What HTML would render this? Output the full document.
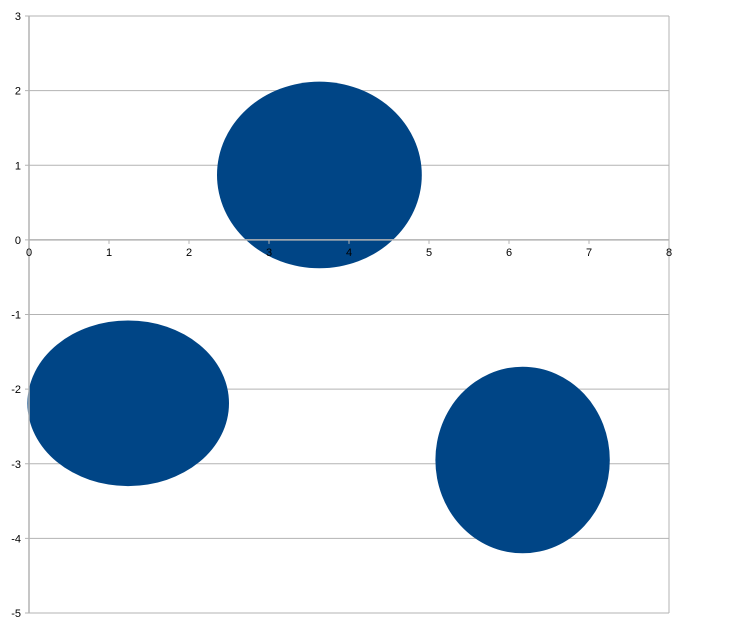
<!DOCTYPE html>
<html><head><meta charset="utf-8"><style>
html,body{margin:0;padding:0;background:#fff;}
svg{display:block;font-family:"Liberation Sans",sans-serif;}
</style></head><body>
<svg id="chart" width="739" height="633" viewBox="0 0 739 633" xmlns="http://www.w3.org/2000/svg">
<g id="grid"></g>
<g id="clusters"></g>
<g id="axes"></g>
</svg>
<script>
const xTicks = [0,1,2,3,4,5,6,7,8];
const yTicks = [3,2,1,0,-1,-2,-3,-4,-5];
const clusterCx = [3.63, 1.24, 6.17];
const clusterCy = [0.87, -2.19, -2.95];
const clusterRx = [1.28, 1.26, 1.09];
const clusterRy = [1.25, 1.11, 1.25];

const X0=29, X1=669, Y0=16, Y1=613;
const sx = v => X0 + (v - 0) / 8 * (X1 - X0);
const sy = v => Y0 + (3 - v) / 8 * (Y1 - Y0);
const NS='http://www.w3.org/2000/svg';
function mk(tag, attrs, parent){const e=document.createElementNS(NS,tag);for(const k in attrs)e.setAttribute(k,attrs[k]);parent.appendChild(e);return e;}
const grid=document.getElementById('grid'), cl=document.getElementById('clusters'), ax=document.getElementById('axes');

yTicks.forEach(t=>{
  const l=mk('line',{x1:X0-4,x2:X1,y1:sy(t),y2:sy(t),stroke:'#b3b3b3','stroke-width':1},grid);
  
  
  const tx=mk('text',{x:X0-8,y:sy(t)+4,'text-anchor':'end','font-size':11,fill:'#000'},ax);
  tx.textContent=t;
  
  
});
const rb=mk('line',{x1:X1,x2:X1,y1:Y0,y2:Y1,stroke:'#b3b3b3','stroke-width':1},grid);



clusterCx.forEach((c,i)=>{
  const e=mk('ellipse',{cx:sx(c),cy:sy(clusterCy[i]),rx:sx(clusterRx[i])-sx(0),ry:sy(0)-sy(clusterRy[i]),fill:'#004586'},cl);
  
  
});

const ya=mk('line',{x1:X0,x2:X0,y1:Y0,y2:Y1,stroke:'#b3b3b3','stroke-width':1.5},ax);


const xa=mk('line',{x1:X0,x2:X1,y1:sy(0),y2:sy(0),stroke:'#b3b3b3','stroke-width':1.5},ax);


xTicks.forEach(t=>{
  const tk=mk('line',{x1:sx(t),x2:sx(t),y1:sy(0),y2:sy(0)+4,stroke:'#b3b3b3','stroke-width':1},ax);
  
  
  const tx=mk('text',{x:sx(t),y:sy(0)+16,'text-anchor':'middle','font-size':11,fill:'#000'},ax);
  tx.textContent=t;
  
  
});
</script>
</body></html>
